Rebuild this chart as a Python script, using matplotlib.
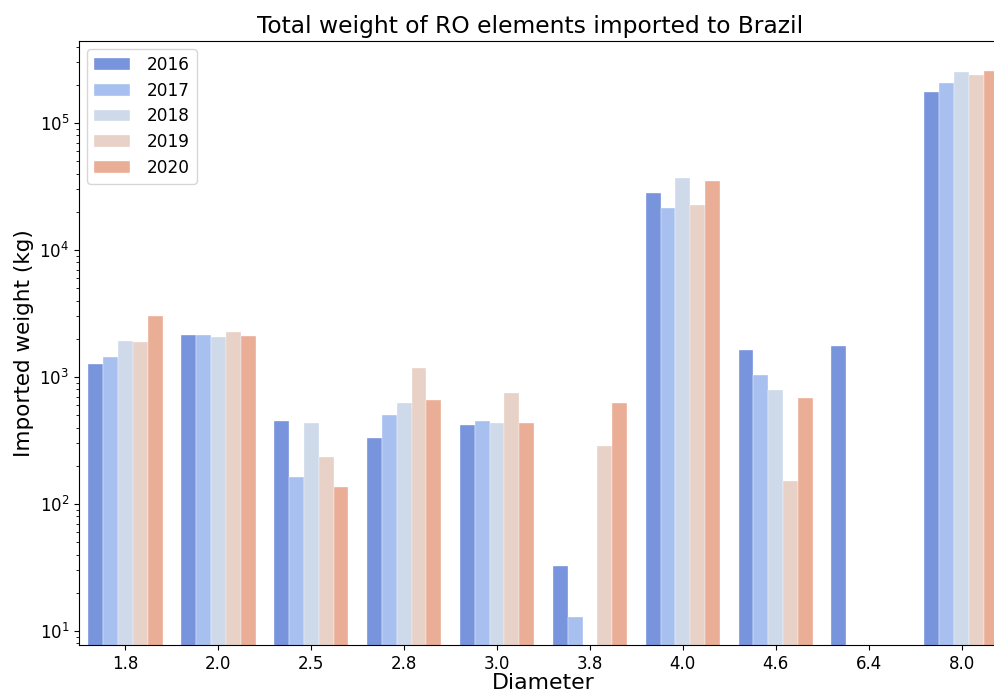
import numpy as np
import pandas as pd
import matplotlib
matplotlib.use("Agg")
import matplotlib.pyplot as plt
import seaborn as sns

# Diameter categories and yearly imported weight (kg)
diameters = ["1.8", "2.0", "2.5", "2.8", "3.0", "3.8", "4.0", "4.6", "6.4", "8.0"]
years = ["2016", "2017", "2018", "2019", "2020"]

w2016 = [1270, 2150, 449, 333, 422, 32.4, 28100, 1620, 1750, 177000]
w2017 = [1435, 2140, 164, 506, 449, 12.8, 21500, 1036, np.nan, 208000]
w2018 = [1906, 2060, 438, 628, 438, np.nan, 37000, 787, np.nan, 254000]
w2019 = [1900, 2280, 236, 1177, 753, 289, 22800, 152, np.nan, 241000]
w2020 = [3027, 2100, 137, 656, 431, 628, 34900, 681, np.nan, 259000]

year_colors = ["#7894dc", "#a7c0f0", "#ced9ea", "#e8d1c6", "#eaad96"]

rows = []
for year, vals in zip(years, [w2016, w2017, w2018, w2019, w2020]):
    for d, v in zip(diameters, vals):
        rows.append({"Diameter": d, "Year": year, "Weight": v})
df = pd.DataFrame(rows)

fig = plt.figure(figsize=(9.94, 6.91), dpi=100)
ax = fig.add_axes([79 / 994, 46 / 691, (1008 - 79) / 994, (645 - 41) / 691])

sns.barplot(data=df, x="Diameter", y="Weight", hue="Year", order=diameters,
            hue_order=years, palette=year_colors, saturation=1, ax=ax,
            edgecolor="white", linewidth=0.25)

ax.set_yscale("log")
ax.set_ylim(7.76, 4.43e5)
ax.set_xlim(-0.5, len(diameters) - 0.5)
ax.set_title("Total weight of RO elements imported to Brazil", fontsize=16.8,
             x=0.4855)
ax.set_xlabel("Diameter", fontsize=15.8, labelpad=0)
ax.set_ylabel("Imported weight (kg)", fontsize=15.5)
ax.tick_params(axis="both", labelsize=12)

handles, labels = ax.get_legend_handles_labels()
ax.legend(handles, labels, loc="upper left", fontsize=12.2, labelspacing=0.45,
          handlelength=2.1, handletextpad=1.0)

fig.savefig("out.png", dpi=100)
